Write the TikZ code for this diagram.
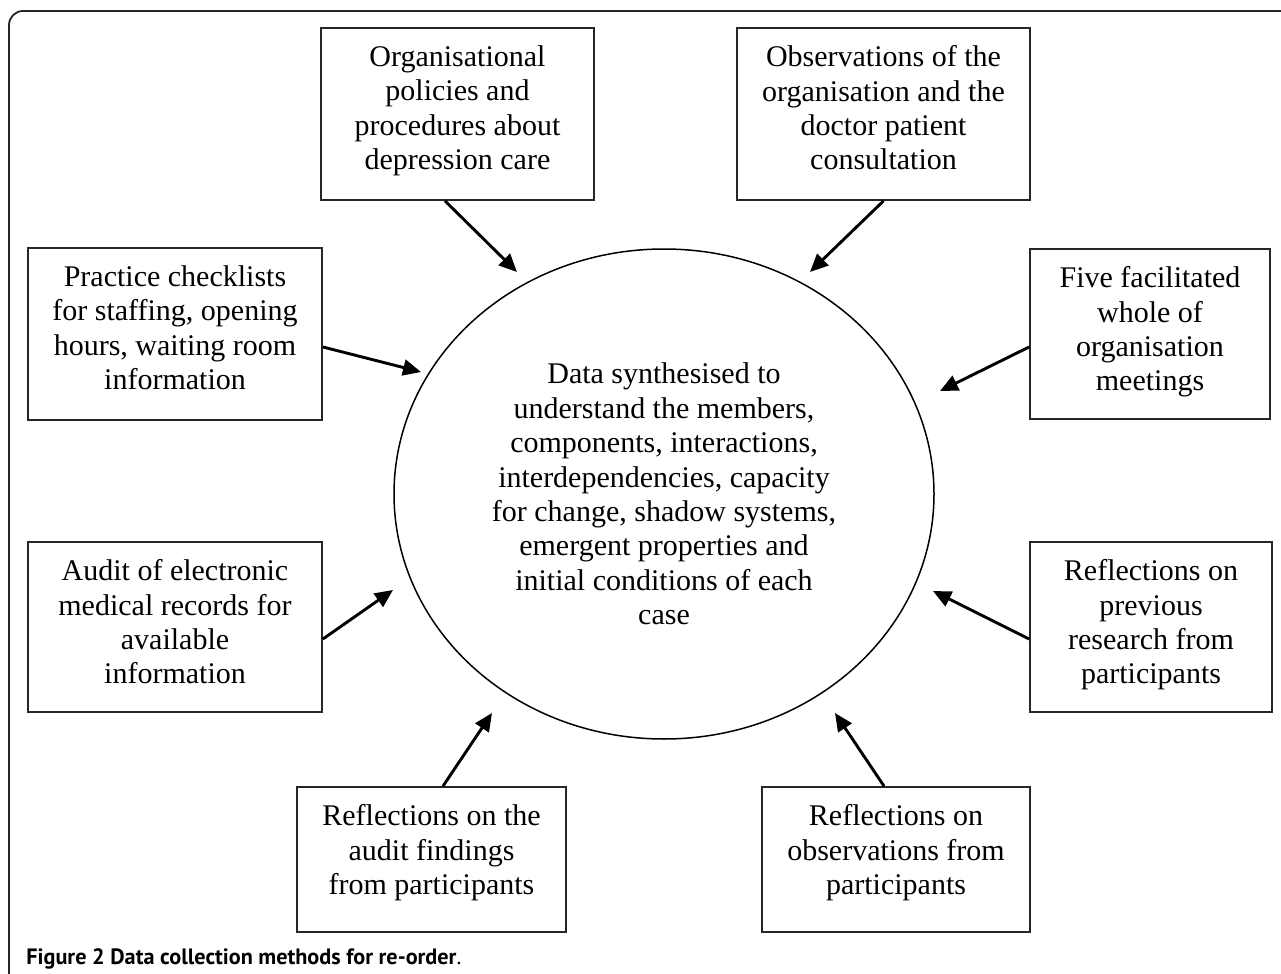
\documentclass[tikz,border=0pt]{standalone}
\usepackage{fontspec}
\setmainfont{Liberation Serif}
\newfontfamily\capfont{PT Sans}
\usetikzlibrary{arrows.meta,shapes.geometric}
\begin{document}
\begin{tikzpicture}[x=0.5pt,y=-0.5pt,
  box/.style={draw=black!85, line width=0.9pt, inner sep=0pt},
  lbl/.style={anchor=north, yshift=-9pt, inner sep=0pt, align=center,
    font=\fontsize{15}{17.2}\selectfont},
  ell/.style={draw=black, line width=0.75pt, ellipse, align=center, inner sep=0pt,
    font=\fontsize{15}{17.2}\selectfont},
  arr/.style={-{Triangle[length=9pt,width=8pt]}, line width=1.45pt},
  frame/.style={draw=black!85, line width=0.9pt, rounded corners=7pt}
]
\useasboundingbox (0,0) rectangle (1281,974);
\draw[frame] (9,974) -- (9,11) -- (1281,11);

\node[ell, minimum width=270pt, minimum height=245pt] (c) at (664,494)
  {Data synthesised to\\understand the members,\\components, interactions,\\interdependencies, capacity\\for change, shadow systems,\\emergent properties and\\initial conditions of each\\case};

\node[box, minimum width=136.5pt, minimum height=86pt,
  label={[lbl]north:{Organisational\\policies and\\procedures about\\depression care}}]
  (b1) at (457.5,114) {};
\node[box, minimum width=146.5pt, minimum height=86pt,
  label={[lbl]north:{Observations of the\\organisation and the\\doctor patient\\consultation}}]
  (b2) at (883.5,114) {};
\node[box, minimum width=147pt, minimum height=86pt,
  label={[lbl]north:{Practice checklists\\for staffing, opening\\hours, waiting room\\information}}]
  (b3) at (175,334) {};
\node[box, minimum width=120pt, minimum height=85pt,
  label={[lbl]north:{Five facilitated\\whole of\\organisation\\meetings}}]
  (b4) at (1150,334) {};
\node[box, minimum width=147pt, minimum height=85pt,
  label={[lbl]north:{Audit of electronic\\medical records for\\available\\information}}]
  (b5) at (175,627) {};
\node[box, minimum width=121pt, minimum height=85pt,
  label={[lbl]north:{Reflections on\\previous\\research from\\participants}}]
  (b6) at (1151,627) {};
\node[box, minimum width=134.5pt, minimum height=72.5pt,
  label={[lbl]north:{Reflections on the\\audit findings\\from participants}}]
  (b7) at (431.5,859.5) {};
\node[box, minimum width=134pt, minimum height=72.5pt,
  label={[lbl]north:{Reflections on\\observations from\\participants}}]
  (b8) at (896,859.5) {};

\coordinate (t1) at (517,272);
\coordinate (t2) at (810,272);
\coordinate (t3) at (421,372);
\coordinate (t4) at (940,391);
\coordinate (t5) at (393,590);
\coordinate (t6) at (933,591);
\coordinate (t7) at (492,713);
\coordinate (t8) at (835,713);

\draw[arr] ([xshift=-6.25pt]b1.south) -- (t1);
\draw[arr] (b2.south) -- (t2);
\draw[arr] ([yshift=-6.5pt]b3.east) -- (t3);
\draw[arr] ([yshift=-6.5pt]b4.west) -- (t4);
\draw[arr] ([yshift=-6pt]b5.east) -- (t5);
\draw[arr] ([yshift=-6pt]b6.west) -- (t6);
\draw[arr] ([xshift=5.75pt]b7.north) -- (t7);
\draw[arr] ([xshift=-6pt]b8.north) -- (t8);

\node[anchor=base west, inner sep=0pt, font=\capfont\fontsize{11.1}{13}\selectfont] (cap) at (26,964)
  {\textbf{Figure 2 Data collection methods for re-order}.};
\end{tikzpicture}
\end{document}
